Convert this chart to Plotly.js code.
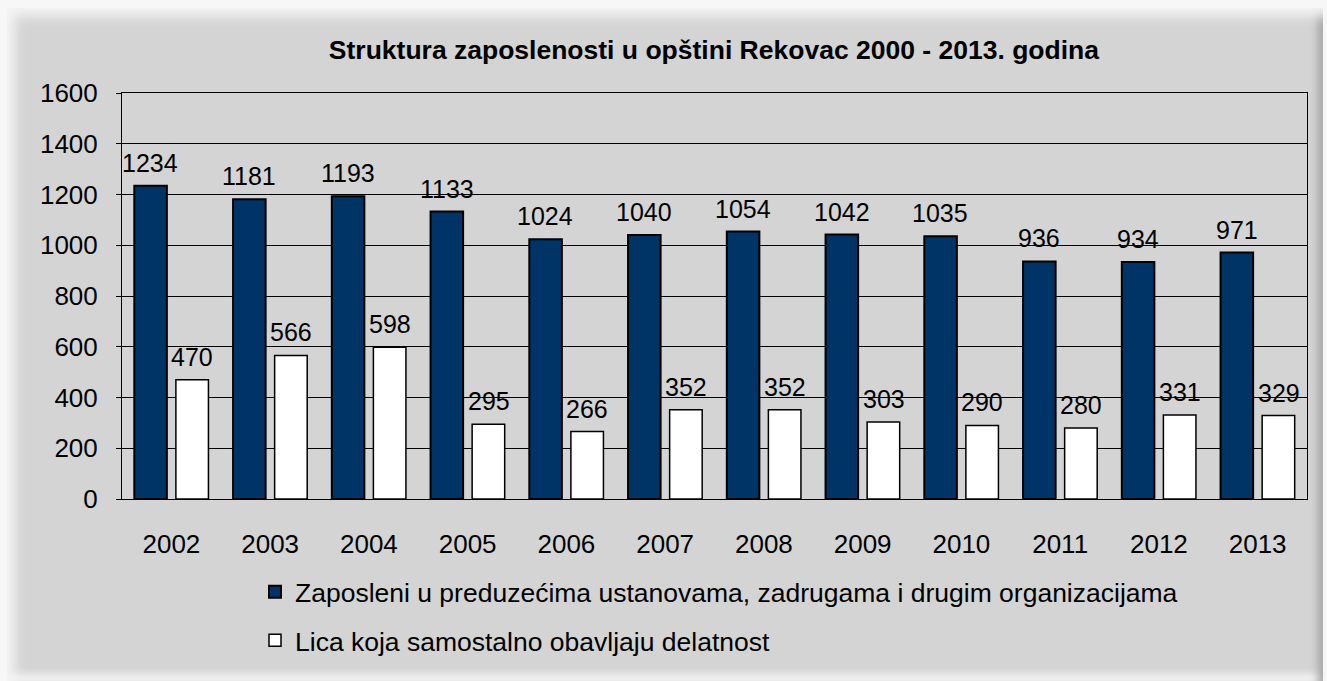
<!DOCTYPE html>
<html>
<head>
<meta charset="utf-8">
<script src="https://cdn.plot.ly/plotly-3.0.1.min.js"></script>
<style>
  html, body { margin: 0; padding: 0; background: #ffffff; }
  #wrap { position: relative; width: 1327px; height: 681px; background: #f7f7f7; overflow: hidden; }
  #frame { position: absolute; left: 7px; top: 8px; width: 1316px; height: 673px; background: #D4D4D4;
    box-shadow: inset 14px 14px 12px -6px #f4f4f4, inset -9px 0 8px -4px #a6a6a6, inset 0 -11px 8px -5px #fbfbfb; }
  #chart { position: absolute; left: 0; top: 0; width: 1327px; height: 681px; }
</style>
</head>
<body>
<div id="wrap"><div id="frame"></div><div id="chart"></div></div>
<script>
const years = ['2002','2003','2004','2005','2006','2007','2008','2009','2010','2011','2012','2013'];
const zaposleni = [1234, 1181, 1193, 1133, 1024, 1040, 1054, 1042, 1035, 936, 934, 971];
const samostalni = [470, 566, 598, 295, 266, 352, 352, 303, 290, 280, 331, 329];
const seriesNames = ['Zaposleni u preduzećima ustanovama, zadrugama i drugim organizacijama',
                     'Lica koja samostalno obavljaju delatnost'];
const titleText = 'Struktura zaposlenosti u opštini Rekovac 2000 - 2013. godina';
const yTicks = [0, 200, 400, 600, 800, 1000, 1200, 1400, 1600];

const FONT = 'Liberation Sans, Arial, sans-serif';

const traces = [
  { type: 'bar', x: years, y: zaposleni, name: seriesNames[0], legendgroup: 'a',
    marker: { color: '#003366', line: { color: '#000000', width: 2 } }, hoverinfo: 'x+y' },
  { type: 'bar', x: years, y: samostalni, name: seriesNames[1], legendgroup: 'b',
    marker: { color: '#ffffff', line: { color: '#000000', width: 1.5 } }, hoverinfo: 'x+y' }
];

const annotations = [];
[zaposleni, samostalni].forEach((arr, si) => {
  arr.forEach((v, i) => {
    annotations.push({ x: i, y: v, xref: 'x', yref: 'y', text: String(v), showarrow: false,
      xshift: si === 0 ? -21 : 21, yshift: 23, yanchor: 'middle', xanchor: 'center',
      font: { family: FONT, size: 25, color: '#000000' } });
  });
});

const layout = {
  width: 1327, height: 681,
  paper_bgcolor: 'rgba(0,0,0,0)', plot_bgcolor: '#D4D4D4',
  margin: { l: 122, r: 20, t: 93, b: 182, autoexpand: false },
  barmode: 'group', bargap: 0.158, bargroupgap: 0.217,
  title: { text: titleText, font: { family: FONT, size: 26.5, color: '#000000', weight: 'bold' },
           xref: 'container', x: 0.538, xanchor: 'center', yref: 'container', y: 1 - 50/681, yanchor: 'middle' },
  xaxis: { type: 'category', range: [-0.5, years.length - 0.5], autorange: false,
           showline: true, linecolor: '#000000', linewidth: 1, mirror: true,
           showgrid: false, ticks: '', ticklabelstandoff: 22,
           tickfont: { family: FONT, size: 26, color: '#000000' } },
  yaxis: { range: [0, 1600], autorange: false, tickvals: yTicks, showline: true, linecolor: '#000000', linewidth: 1, mirror: true,
           showgrid: true, gridcolor: '#000000', gridwidth: 1, zeroline: false,
           ticks: 'outside', ticklen: 5, tickcolor: '#000000', ticklabelstandoff: 13,
           tickfont: { family: FONT, size: 26, color: '#000000' } },
  showlegend: true,
  legend: { orientation: 'v', xref: 'container', yref: 'container', x: 255/1327, y: 1 - 568/681,
            xanchor: 'left', yanchor: 'top', bgcolor: 'rgba(0,0,0,0)', tracegroupgap: 11,
            font: { family: FONT, size: 26.5, color: '#000000' } },
  annotations: annotations
};

Plotly.newPlot('chart', traces, layout, { displayModeBar: false, staticPlot: true });
</script>
</body>
</html>
